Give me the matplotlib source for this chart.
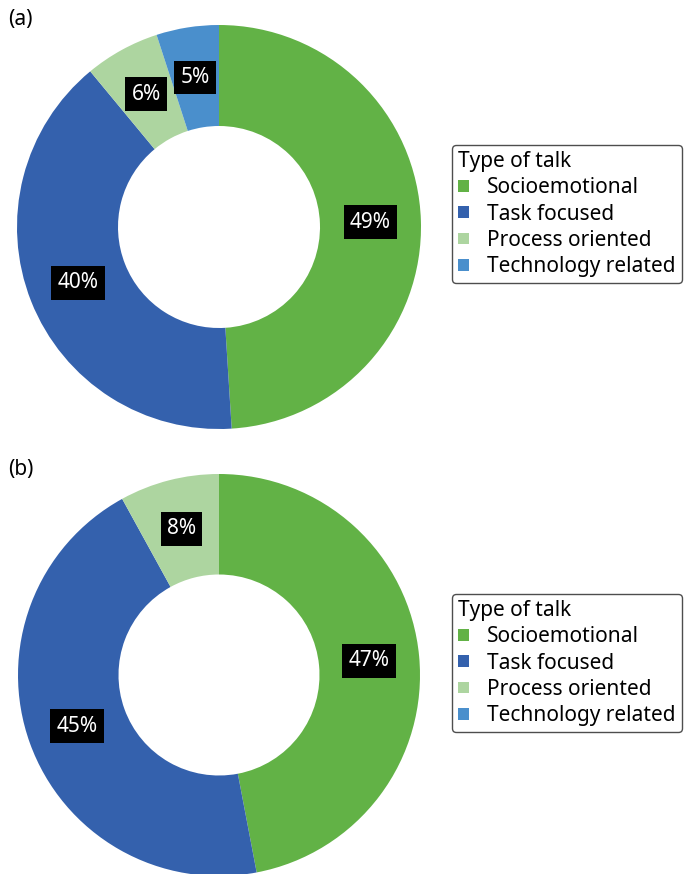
import matplotlib
matplotlib.use("Agg")
import matplotlib.pyplot as plt
from matplotlib.patches import Patch
import numpy as np

plt.rcParams['font.family'] = ['Noto Sans', 'DejaVu Sans']

categories = ["Socioemotional", "Task focused", "Process oriented", "Technology related"]
colors = ["#62B246", "#3461AD", "#ADD5A0", "#4A8FCC"]
values_a = [49, 40, 6, 5]
values_b = [47, 45, 8, 0]
panel_labels = ["(a)", "(b)"]

W, H = 686, 874
fig = plt.figure(figsize=(W / 100, H / 100), dpi=100)

def donut(cx, cy, r, values, tag, leg_top):
    ax = fig.add_axes([(cx - r) / W, 1 - (cy + r) / H, 2 * r / W, 2 * r / H])
    ax.pie(values, colors=colors, startangle=90, counterclock=False,
           radius=1, wedgeprops=dict(width=0.5, linewidth=0))
    total = sum(values)
    cum = 0
    for v in values:
        if v > 0:
            mid = (cum + v / 2) / total * 2 * np.pi
            x = 0.75 * np.sin(mid)
            y = 0.75 * np.cos(mid)
            ax.text(x, y, f"{v}%", ha="center", va="center", color="white",
                    fontsize=15,
                    bbox=dict(boxstyle="square,pad=0.3", fc="black", ec="none"))
        cum += v
    ax.set_xlim(-1, 1)
    ax.set_ylim(-1, 1)
    ax.set_axis_off()
    fig.text(8 / W, 1 - (cy - r - 5) / H, tag, ha="left", va="center", fontsize=15)
    handles = [Patch(facecolor=c, edgecolor="none") for c in colors]
    leg = fig.legend(handles, categories, title="Type of talk", loc="upper left",
                     bbox_to_anchor=(452 / W, 1 - leg_top / H), borderaxespad=0,
                     fontsize=15, title_fontsize=15, alignment="left",
                     handlelength=0.5, handleheight=0.5, handletextpad=0.9,
                     labelspacing=0.25, borderpad=0.3, frameon=True, fancybox=True)
    leg.get_frame().set_edgecolor("#222222")
    leg.get_frame().set_linewidth(1.0)

donut(219, 227, 202, values_a, panel_labels[0], 145)
donut(219, 675, 201, values_b, panel_labels[1], 594)

fig.savefig("out.png", dpi=100)
